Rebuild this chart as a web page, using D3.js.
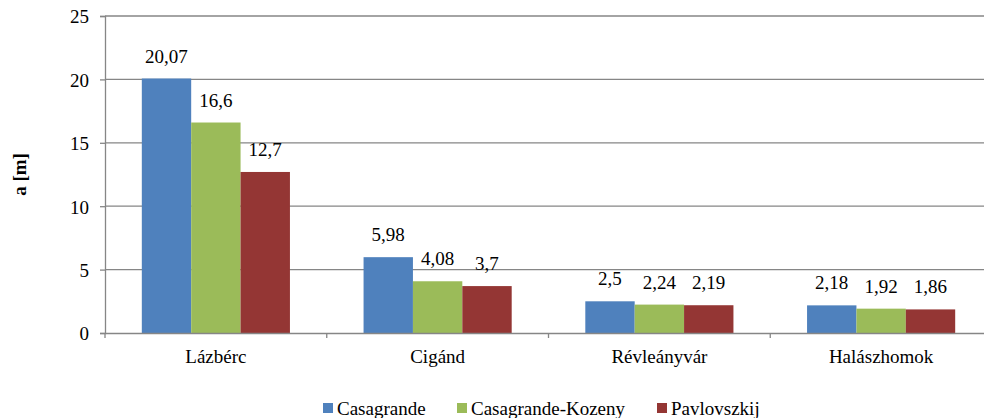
<!DOCTYPE html>
<html lang="hu">
<head>
<meta charset="UTF-8">
<script src="https://cdn.jsdelivr.net/npm/d3@7/dist/d3.min.js"></script>
<style>
    body { margin: 0; background: #fff; }
    svg text { font-family: "Liberation Serif", "Times New Roman", "DejaVu Serif", serif; font-size: 19px; fill: #000; }
    .title { font-weight: bold; text-anchor: middle; }
</style>
</head>
<body>
<svg width="984" height="418" font-family="Liberation Serif, Times New Roman, serif"></svg>
<script>
    const sites = ["Lázbérc", "Cigánd", "Révleányvár", "Halászhomok"];
    const seriesNames = ["Casagrande", "Casagrande-Kozeny", "Pavlovszkij"];
    const casagrande = [20.07, 5.98, 2.5, 2.18];
    const kozeny = [16.6, 4.08, 2.24, 1.92];
    const pavlovszkij = [12.7, 3.7, 2.19, 1.86];
    const yTicks = [0, 5, 10, 15, 20, 25];
    const colors = ["#4F81BD", "#9BBB59", "#943634"];

    const allSeries = [casagrande, kozeny, pavlovszkij];
    const rows = sites.map((s, i) => ({site: s, vals: allSeries.map(a => a[i])}));

    const mLeft = 105, mRight = 992, mTop = 16, mBottom = 333;
    const svg = d3.select("svg");

    const x = d3.scaleBand().domain(sites).range([mLeft, mRight]).paddingInner(0).paddingOuter(0);
    const xs = d3.scaleBand().domain(d3.range(3)).range([0, x.bandwidth() * 0.668]);
    const groupOff = x.bandwidth() * 0.166;
    const y = d3.scaleLinear().domain([0, 25]).range([mBottom, mTop]);

    // gridlines
    svg.append("g").selectAll("line").data(yTicks.filter(d => d > 0)).join("line")
        .attr("x1", mLeft).attr("x2", mRight)
        .attr("y1", d => y(d)).attr("y2", d => y(d))
        .attr("stroke", "#868686").attr("stroke-width", 1.3);

    // bars
    const g = svg.append("g").selectAll("g").data(rows).join("g")
        .attr("transform", d => `translate(${x(d.site) + groupOff},0)`);
    g.selectAll("rect").data(d => d.vals).join("rect")
        .attr("x", (d, i) => xs(i)).attr("width", xs.bandwidth())
        .attr("y", d => y(d)).attr("height", d => y(0) - y(d))
        .attr("fill", (d, i) => colors[i]);
    g.selectAll("text").data(d => d.vals).join("text")
        .attr("x", (d, i) => xs(i) + xs.bandwidth() / 2)
        .attr("y", d => y(d) - 16)
        .attr("text-anchor", "middle")
        .text(d => String(d).replace(".", ","));

    // y axis
    const yAxis = svg.append("g").attr("transform", `translate(${mLeft},0)`)
        .call(d3.axisLeft(y).tickValues(yTicks).tickSize(5).tickPadding(11));
    yAxis.attr("font-family", null).attr("font-size", null);
    yAxis.select(".domain").attr("stroke", "#868686").attr("stroke-width", 1.3);
    yAxis.selectAll(".tick line").attr("stroke", "#868686").attr("stroke-width", 1.3);
    yAxis.selectAll("text").attr("dy", "0.36em");

    // x axis
    const xAxis = svg.append("g").attr("transform", `translate(0,${mBottom})`)
        .call(d3.axisBottom(x).tickSize(0).tickPadding(17));
    xAxis.attr("font-family", null).attr("font-size", null);
    xAxis.select(".domain").attr("stroke", "#868686").attr("stroke-width", 1.3);
    xAxis.selectAll("line.sep").data(sites.map(s => x(s)).concat([mRight])).join("line")
        .attr("class", "sep")
        .attr("x1", d => d).attr("x2", d => d).attr("y1", 0).attr("y2", 5)
        .attr("stroke", "#868686").attr("stroke-width", 1.3);

    svg.append("text").attr("class", "title")
        .attr("transform", `translate(26,${(mTop + mBottom) / 2}) rotate(-90)`)
        .text("a [m]");

    // legend
    const legendX = [323, 457, 657];
    const lg = svg.append("g").selectAll("g").data(seriesNames).join("g")
        .attr("transform", (d, i) => `translate(${legendX[i]},403)`);
    lg.append("rect").attr("width", 10).attr("height", 10).attr("fill", (d, i) => colors[i]);
    lg.append("text").attr("x", 14).attr("y", 12).text(d => d);
</script>
</body>
</html>
